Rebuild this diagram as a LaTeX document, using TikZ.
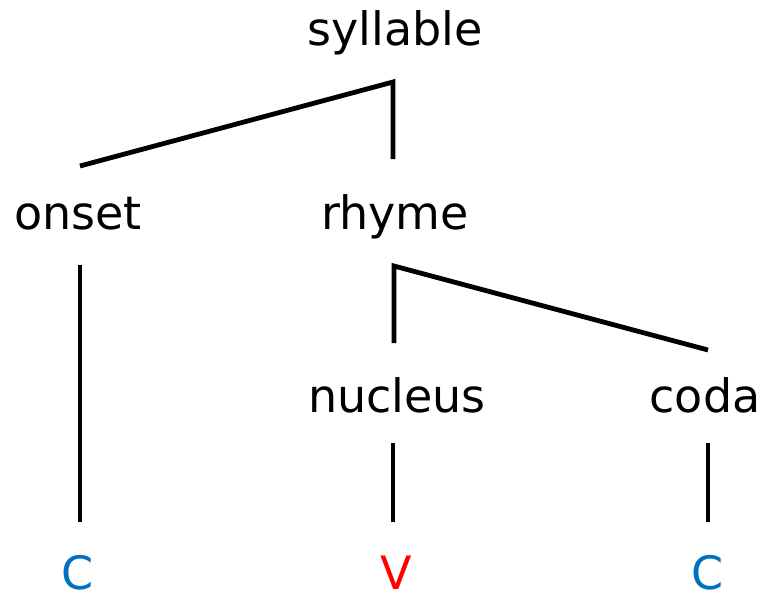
\documentclass[tikz,border=0pt]{standalone}
\usepackage{fontspec}
\setmainfont{DejaVu Sans}
\definecolor{cblue}{HTML}{0070C0}
\definecolor{vred}{HTML}{FF0000}
\begin{document}
\begin{tikzpicture}[x=0.75pt,y=-0.75pt,
  label/.style={anchor=base,inner sep=0pt,font=\fontsize{34.5}{40}\selectfont},
  branch/.style={line width=3.6pt,line join=miter}]
\useasboundingbox (0,0) rectangle (763,596);
% tree labels
\node[label] (syl) at (395,45) {syllable};
\node[label] (ons) at (78,229) {onset};
\node[label] (rhy) at (395,229) {rhyme};
\node[label] (nuc) at (397,412) {nucleus};
\node[label] (cod) at (705,412) {coda};
\node[label,text=cblue] (c1) at (78,589) {C};
\node[label,text=vred] (v) at (396,589) {V};
\node[label,text=cblue] (c2) at (708,589) {C};
% branch points and line ends
\coordinate (sylJ) at (393,82);
\coordinate (onsT) at (80,166);
\coordinate (rhyT) at (393,159);
\coordinate (rhyJ) at (394,266);
\coordinate (nucT) at (394,343);
\coordinate (codT) at (708,350);
\coordinate (onsB) at (80,265);
\coordinate (c1T) at (80,522);
\coordinate (nucB) at (393,443);
\coordinate (vT) at (393,522);
\coordinate (codB) at (708,443);
\coordinate (c2T) at (708,522);
% branches
\draw[branch] (onsT) -- (sylJ) -- (rhyT);
\draw[branch] (nucT) -- (rhyJ) -- (codT);
\draw[branch] (onsB) -- (c1T);
\draw[branch] (nucB) -- (vT);
\draw[branch] (codB) -- (c2T);
\end{tikzpicture}
\end{document}
